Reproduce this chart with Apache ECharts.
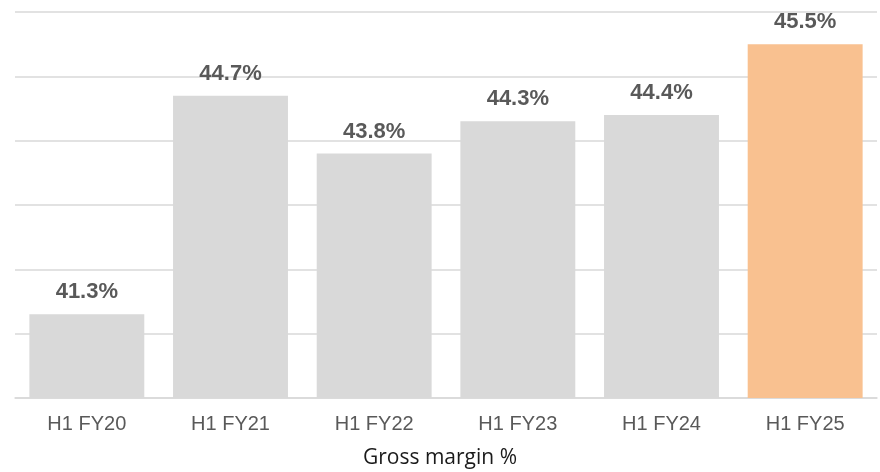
<!DOCTYPE html>
<html>
<head>
<meta charset="utf-8">
<script src="https://cdn.jsdelivr.net/npm/echarts@6/dist/echarts.min.js"></script>
<style>
  html, body { margin: 0; padding: 0; background: #fff; }
  #chart { width: 880px; height: 472px; }
</style>
</head>
<body>
<div id="chart"></div>
<script>
// data
var categories = ['H1 FY20', 'H1 FY21', 'H1 FY22', 'H1 FY23', 'H1 FY24', 'H1 FY25'];
var grossMargin = [41.3, 44.7, 43.8, 44.3, 44.4, 45.5];
var highlightIndex = 5;

var myChart = echarts.init(document.getElementById('chart'), null, { renderer: 'canvas' });

var option = {
  animation: false,
  grid: { left: 15, right: 3, top: 12, bottom: 74 },
  title: {
    text: 'Gross margin %',
    left: 'center',
    top: 443,
    textStyle: { fontFamily: 'Open Sans', fontSize: 21, fontWeight: 'normal', color: '#1a1a1a' }
  },
  xAxis: {
    type: 'category',
    data: categories,
    axisLine: { show: true, lineStyle: { color: '#D9D9D9', width: 1.5 } },
    axisTick: { show: false },
    axisLabel: { color: '#595959', fontSize: 20, fontFamily: 'Liberation Sans', margin: 16 }
  },
  yAxis: {
    type: 'value',
    min: 40,
    max: 46,
    interval: 1,
    axisLabel: { show: false },
    axisLine: { show: false },
    axisTick: { show: false },
    splitLine: { lineStyle: { color: '#D9D9D9', width: 1.5 } }
  },
  series: [{
    type: 'bar',
    barWidth: '80%',
    data: grossMargin.map(function (v, i) {
      return { value: v, itemStyle: { color: i === highlightIndex ? '#F9C190' : '#D9D9D9' } };
    }),
    label: {
      show: true,
      position: 'top',
      distance: 11,
      formatter: function (p) { return p.value.toFixed(1) + '%'; },
      color: '#595959',
      fontSize: 22,
      fontWeight: 'bold',
      fontFamily: 'Liberation Sans'
    }
  }]
};

myChart.setOption(option);
</script>
</body>
</html>
